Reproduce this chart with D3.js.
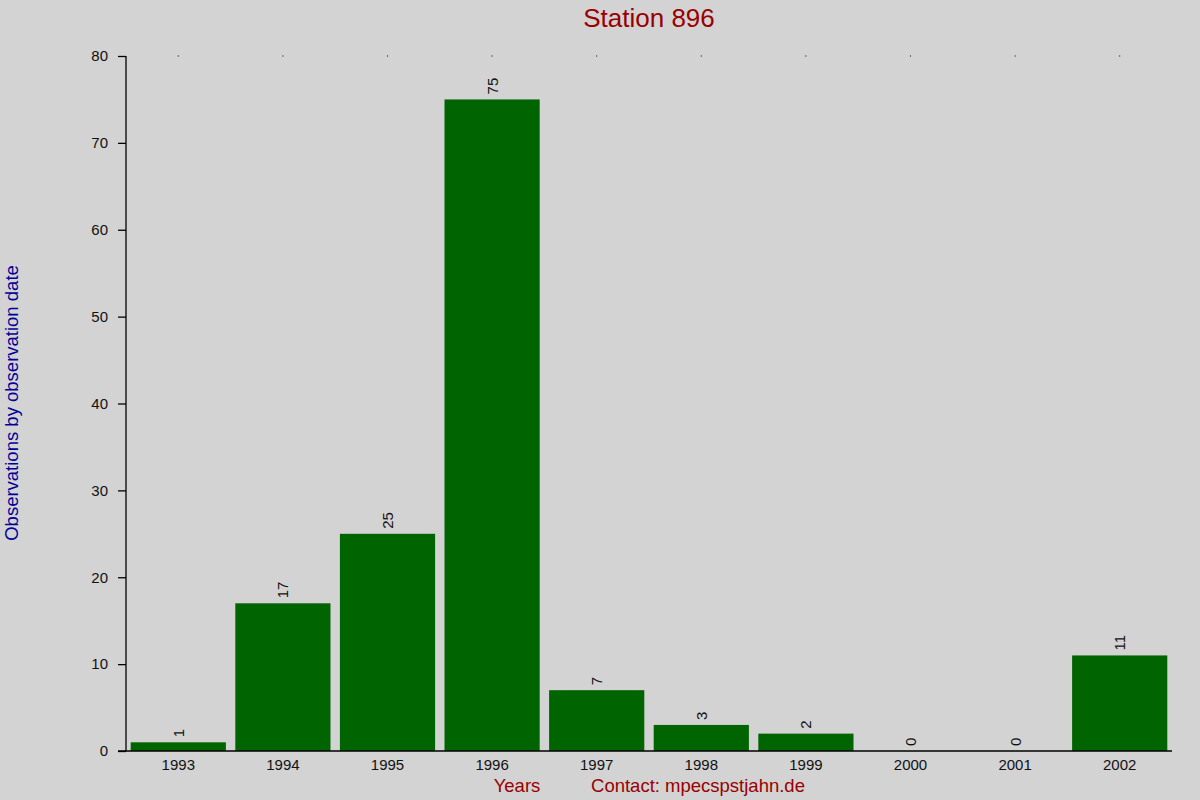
<!DOCTYPE html>
<html>
<head>
<meta charset="utf-8">
<script src="https://cdn.jsdelivr.net/npm/d3@7"></script>
<style>
  body { margin: 0; background: #d3d3d3; }
  svg { display: block; font-family: "Liberation Sans", Arial, sans-serif; }
</style>
</head>
<body>
<svg id="chart" width="1200" height="800"></svg>
<script>
// chart data
const years = ["1993", "1994", "1995", "1996", "1997", "1998", "1999", "2000", "2001", "2002"];
const counts = [1, 17, 25, 75, 7, 3, 2, 0, 0, 11];
const yTicks = [0, 10, 20, 30, 40, 50, 60, 70, 80];

const margin = { left: 126, right: 28, top: 56, bottom: 49 };
const W = 1200, H = 800;

const svg = d3.select("#chart");
svg.append("rect").attr("width", W).attr("height", H).attr("fill", "#d3d3d3");

const x = d3.scaleBand()
    .domain(years)
    .range([margin.left, W - margin.right])
    .paddingInner(0.09)
    .paddingOuter(0.045);

const y = d3.scaleLinear()
    .domain([0, 80])
    .range([H - margin.bottom, margin.top]);

// bars
svg.selectAll("rect.bar")
    .data(years)
    .enter()
    .append("rect")
    .attr("class", "bar")
    .attr("x", d => x(d))
    .attr("y", (d, i) => y(counts[i]))
    .attr("width", x.bandwidth())
    .attr("height", (d, i) => y(0) - y(counts[i]))
    .attr("fill", "#006400");

// value labels, rotated
svg.selectAll("text.val")
    .data(years)
    .enter()
    .append("text")
    .attr("class", "val")
    .attr("transform", (d, i) => `translate(${x(d) + x.bandwidth() / 2 + 5.5},${y(counts[i]) - 5}) rotate(-90)`)
    .attr("font-size", 15)
    .attr("fill", "#111")
    .text((d, i) => counts[i]);

// little dots along the top
svg.selectAll("rect.dot")
    .data(years)
    .enter()
    .append("rect")
    .attr("class", "dot")
    .attr("x", d => x(d) + x.bandwidth() / 2 - 0.5)
    .attr("y", y(80) - 0.5)
    .attr("width", 1)
    .attr("height", 1)
    .attr("fill", "#000");

// y axis
const yAxis = d3.axisLeft(y).tickValues(yTicks).tickSize(8).tickPadding(10);
const gy = svg.append("g")
    .attr("transform", `translate(${margin.left},0)`)
    .call(yAxis);
gy.select(".domain").attr("d", `M0,${y(80)}V${y(0)}`).attr("stroke", "#000").attr("stroke-width", 1.3);
gy.selectAll(".tick line").attr("stroke", "#000").attr("stroke-width", 1.3);
gy.selectAll(".tick text").attr("font-size", 15).attr("fill", "#111")
    .attr("font-family", "Liberation Sans, Arial, sans-serif");

// x axis
const xAxis = d3.axisBottom(x).tickSize(0).tickPadding(8);
const gx = svg.append("g")
    .attr("transform", `translate(0,${y(0)})`)
    .call(xAxis);
gx.select(".domain").attr("d", `M${margin.left - 8},0H${W - margin.right}`).attr("stroke", "#000").attr("stroke-width", 1.3);
gx.selectAll(".tick text").attr("font-size", 15).attr("fill", "#111")
    .attr("font-family", "Liberation Sans, Arial, sans-serif");

// title and labels
svg.append("text")
    .attr("x", 649).attr("y", 27)
    .attr("text-anchor", "middle")
    .attr("font-size", 26)
    .attr("fill", "#990000")
    .text("Station 896");

svg.append("text")
    .attr("x", 517).attr("y", 792)
    .attr("text-anchor", "middle")
    .attr("font-size", 18.5)
    .attr("fill", "#990000")
    .text("Years");

svg.append("text")
    .attr("x", 698).attr("y", 792)
    .attr("text-anchor", "middle")
    .attr("font-size", 18.5)
    .attr("fill", "#990000")
    .text("Contact: mpecspstjahn.de");

svg.append("text")
    .attr("transform", "translate(18,403) rotate(-90)")
    .attr("text-anchor", "middle")
    .attr("font-size", 18.5)
    .attr("fill", "#000099")
    .text("Observations by observation date");
</script>
</body>
</html>
